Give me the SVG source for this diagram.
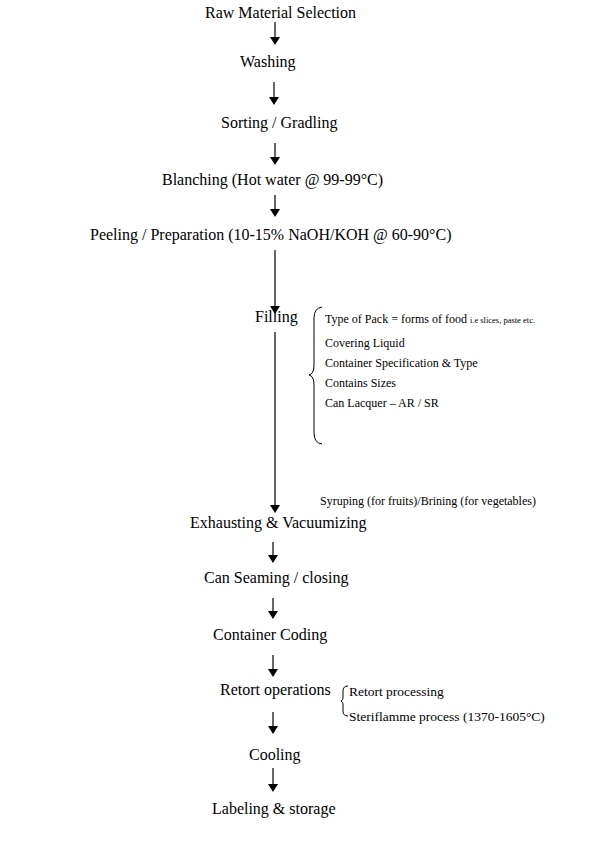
<svg xmlns="http://www.w3.org/2000/svg" width="593" height="842" viewBox="0 0 593 842">
<style>
.t{font-family:"Liberation Serif","Times New Roman",serif;font-size:16px;fill:#000}
.s{font-family:"Liberation Serif","Times New Roman",serif;font-size:12px;fill:#000}
.r{font-family:"Liberation Serif","Times New Roman",serif;font-size:13.5px;fill:#000}
.xs{font-size:8.5px}
.c line{stroke:#000;stroke-width:1.2}
.b{fill:none;stroke:#000;stroke-width:1}
</style>
<defs>
<marker id="ah" markerWidth="8" markerHeight="10" refX="6" refY="5" orient="auto" markerUnits="userSpaceOnUse">
<path d="M0,0 L8,5 L0,10 Z" fill="#000"/>
</marker>
</defs>
<rect width="593" height="842" fill="#fff"/>
<g id="connectors" class="c">
<line x1="275" y1="22" x2="275" y2="43" marker-end="url(#ah)"/>
<line x1="274" y1="82" x2="274" y2="103" marker-end="url(#ah)"/>
<line x1="275" y1="143" x2="275" y2="163" marker-end="url(#ah)"/>
<line x1="275" y1="195" x2="275" y2="215" marker-end="url(#ah)"/>
<line x1="275" y1="250" x2="275" y2="312" marker-end="url(#ah)"/>
<line x1="275" y1="332" x2="275" y2="511" marker-end="url(#ah)"/>
<line x1="273" y1="542" x2="273" y2="561" marker-end="url(#ah)"/>
<line x1="273" y1="598" x2="273" y2="617" marker-end="url(#ah)"/>
<line x1="273" y1="655" x2="273" y2="675" marker-end="url(#ah)"/>
<line x1="273" y1="712" x2="273" y2="732" marker-end="url(#ah)"/>
<line x1="273" y1="768" x2="273" y2="790" marker-end="url(#ah)"/>
</g>
<g id="n1"><text class="t" x="205" y="18">Raw Material Selection</text></g>
<g id="n2"><text class="t" x="240" y="67">Washing</text></g>
<g id="n3"><text class="t" x="221" y="128">Sorting / Gradling</text></g>
<g id="n4"><text class="t" x="162" y="185">Blanching (Hot water @ 99-99°C)</text></g>
<g id="n5"><text class="t" x="90" y="240">Peeling / Preparation (10-15% NaOH/KOH @ 60-90°C)</text></g>
<g id="n6"><text class="t" x="255" y="322">Filling</text></g>
<g id="filling-notes">
<path class="b" d="M322,307 Q314,308 314,318 L314,365 Q314,374 309,375 Q314,376 314,385 L314,433 Q314,443 322,444"/>
<text class="s" x="325" y="323">Type of Pack = forms  of food <tspan class="xs">i.e slices, paste etc.</tspan></text>
<text class="s" x="325" y="347">Covering Liquid</text>
<text class="s" x="325" y="367">Container Specification  &amp; Type</text>
<text class="s" x="325" y="387">Contains Sizes</text>
<text class="s" x="325" y="407">Can Lacquer  – AR / SR</text>
</g>
<g id="syrup"><text class="s" x="320" y="505">Syruping (for fruits)/Brining (for vegetables)</text></g>
<g id="n7"><text class="t" x="190" y="528">Exhausting &amp; Vacuumizing</text></g>
<g id="n8"><text class="t" x="204" y="583">Can Seaming / closing</text></g>
<g id="n9"><text class="t" x="213" y="640">Container Coding</text></g>
<g id="n10"><text class="t" x="220" y="695">Retort operations</text></g>
<g id="retort-notes">
<path class="b" d="M348,686 Q343,686 343,691 L343,698 Q343,700 341,701 Q343,702 343,704 L343,711 Q343,716 348,716"/>
<text class="r" x="349" y="696">Retort processing</text>
<text class="r" x="349" y="721">Steriflamme process (1370-1605°C)</text>
</g>
<g id="n11"><text class="t" x="249" y="760">Cooling</text></g>
<g id="n12"><text class="t" x="212" y="814">Labeling &amp; storage</text></g>
</svg>
